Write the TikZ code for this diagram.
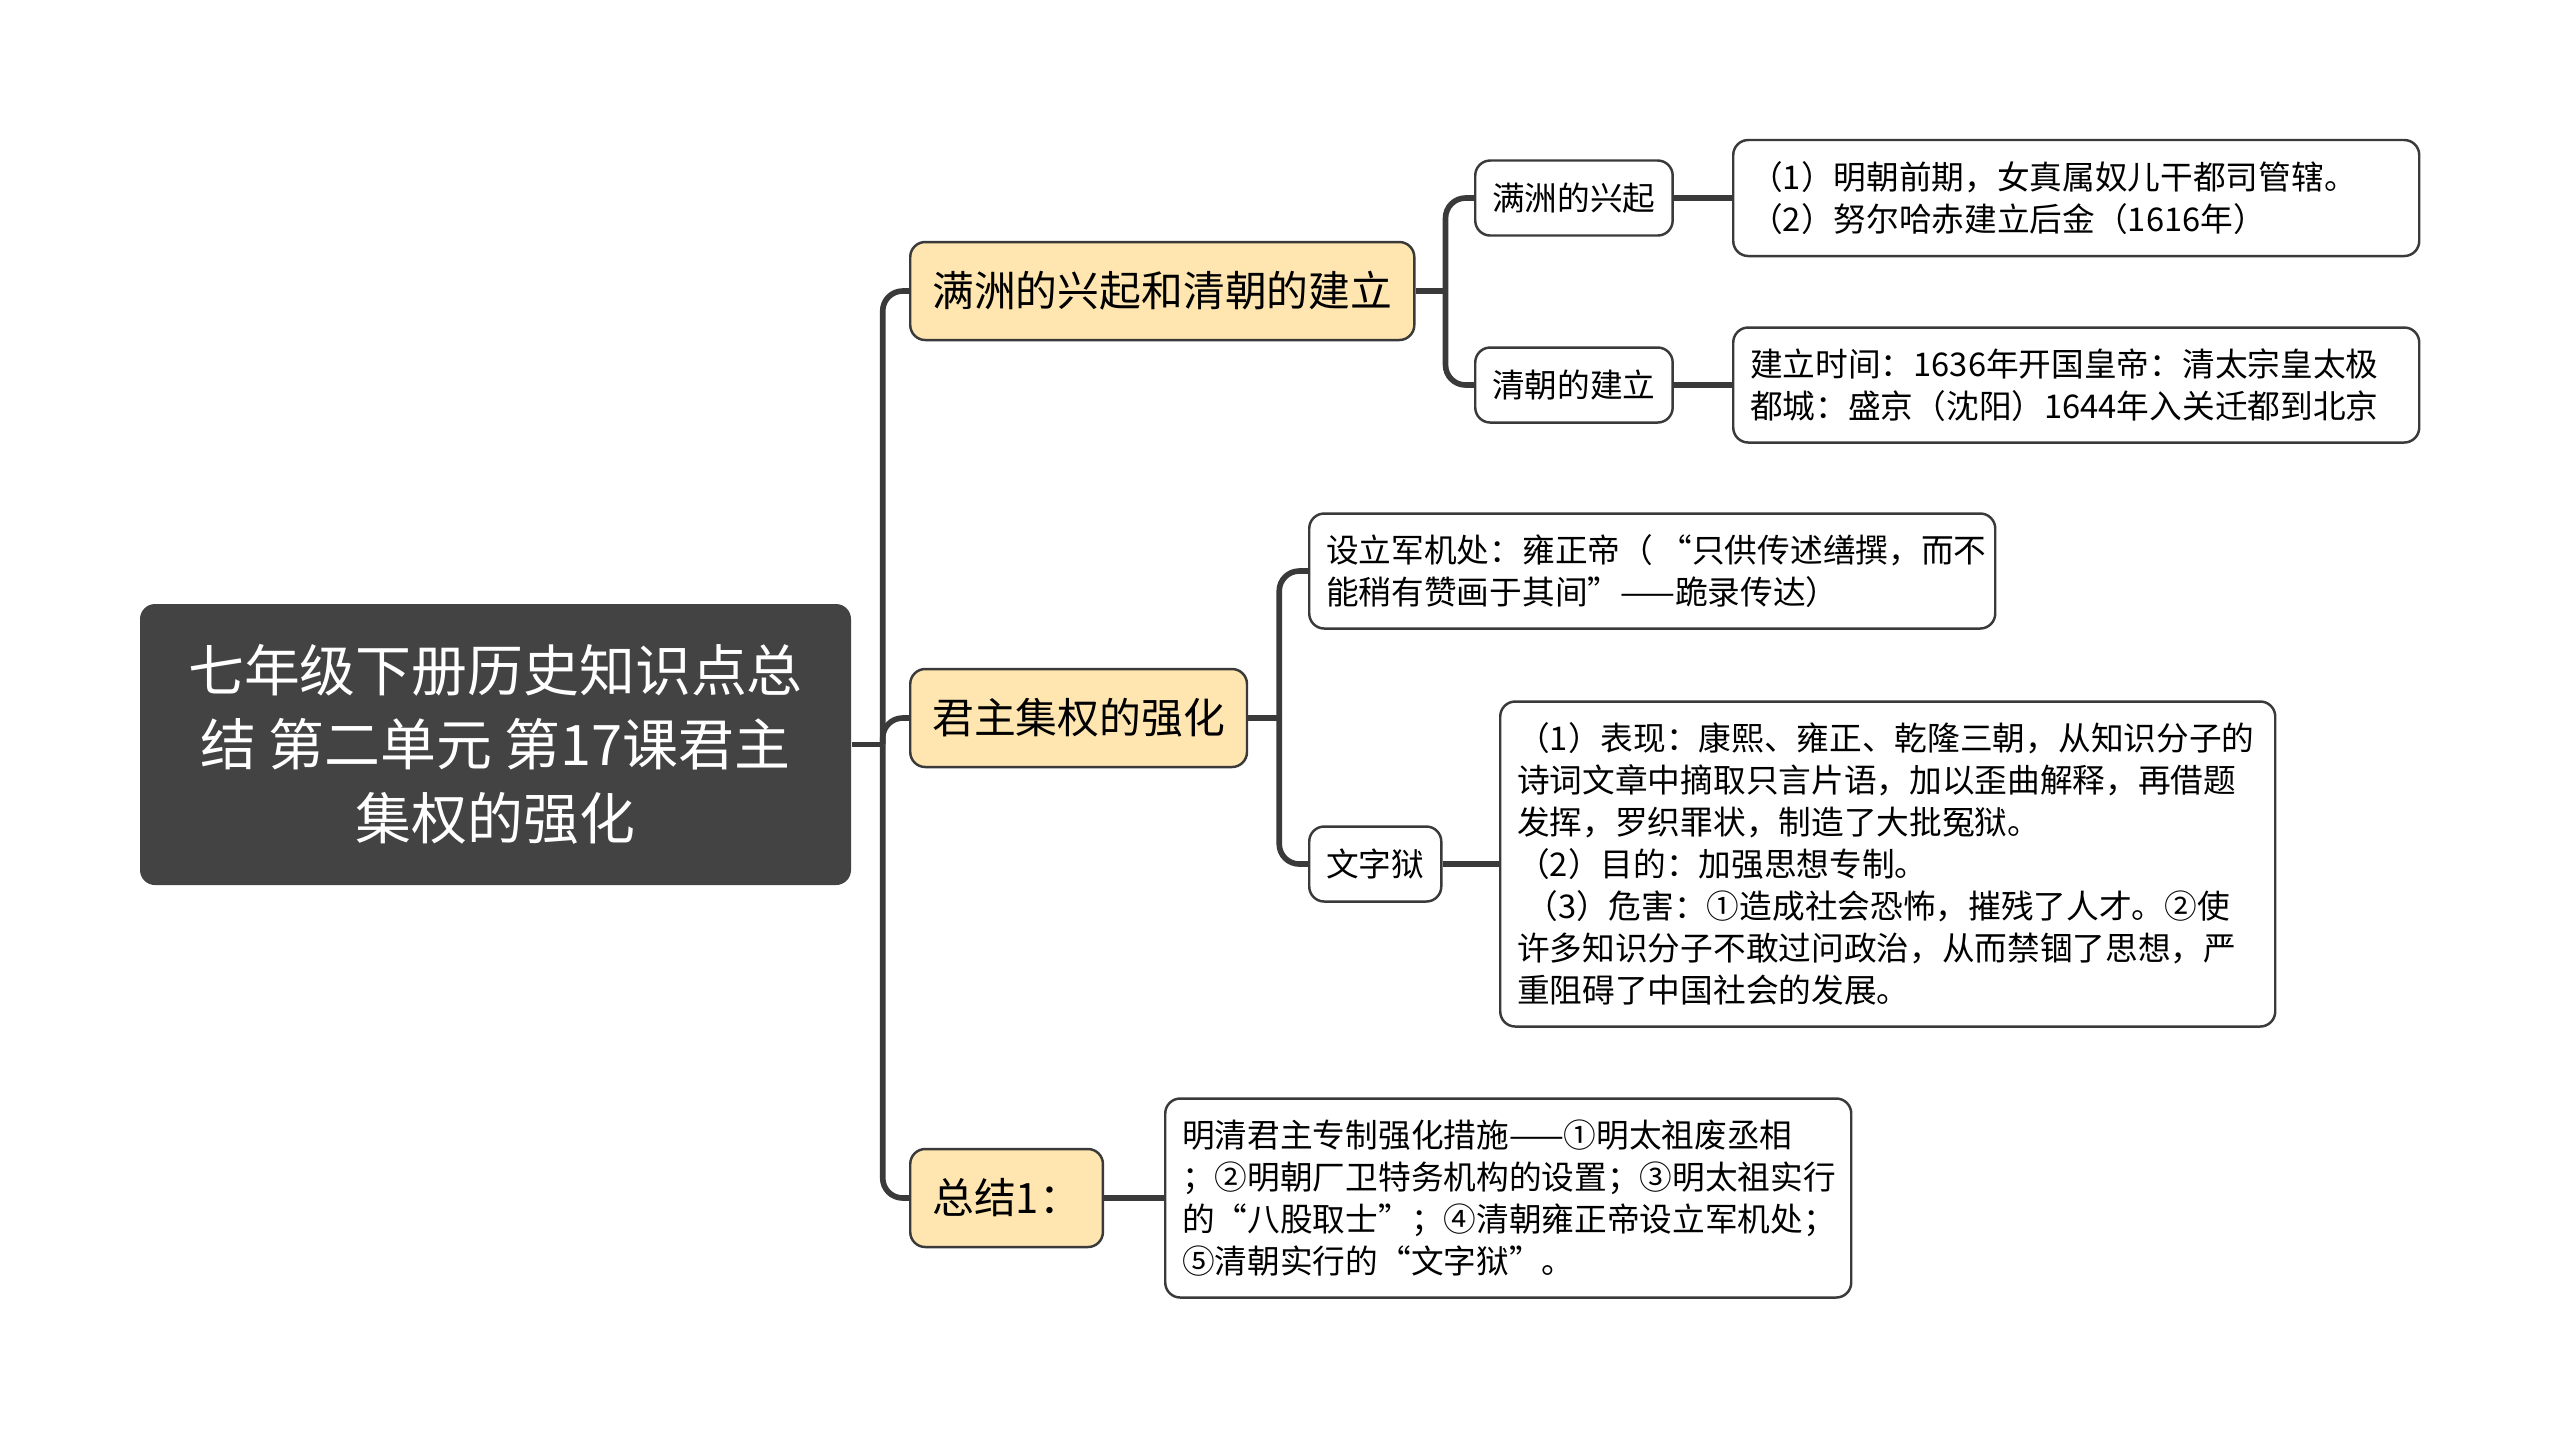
\documentclass[tikz,border=0pt]{standalone}
\usepackage{fontspec}
\setmainfont{Noto Sans CJK SC}
\definecolor{rootgrey}{RGB}{67,67,67}
\definecolor{linegrey}{RGB}{58,58,58}
\definecolor{branchyellow}{RGB}{255,230,177}
\usetikzlibrary{positioning}

\begin{document}
\begin{tikzpicture}[
    root/.style={rectangle, rounded corners=0.15cm, fill=rootgrey, text=white,
      minimum width=7.11cm, minimum height=2.81cm, align=center,
      font=\fontsize{15.9}{21}\selectfont},
    branch/.style={rectangle, rounded corners=0.15cm, draw=linegrey, line width=0.7pt,
      fill=branchyellow, inner xsep=0.22cm, minimum height=0.98cm, anchor=west,
      font=\fontsize{11.9}{14}\selectfont},
    topic/.style={rectangle, rounded corners=0.15cm, draw=linegrey, line width=0.7pt,
      fill=white, inner xsep=0.17cm, minimum height=0.75cm, anchor=west,
      font=\fontsize{9.3}{11}\selectfont},
    leaf/.style={rectangle, rounded corners=0.15cm, draw=linegrey, line width=0.7pt,
      fill=white, inner xsep=0.17cm, anchor=west, align=left,
      font=\fontsize{9.3}{11.95}\selectfont},
    conn/.style={draw=linegrey, line width=1.6pt, rounded corners=0.2cm}
  ]
    \fill[white] (0,0) rectangle (25.6,-14.39);
    \useasboundingbox (0,0) rectangle (25.6,-14.39);

    % Root
    \node[root] (root) at (4.955,-7.445) {七年级下册历史知识点总\\结 第二单元 第17课君主\\集权的强化};

    % Main branches
    \node[branch] (b1) at (9.09,-2.91)  {满洲的兴起和清朝的建立};
    \node[branch] (b2) at (9.09,-7.18)  {君主集权的强化};
    \node[branch] (b3) at (9.09,-11.98) {总结1：};

    % Topics
    \node[topic] (s1) at (14.74,-1.98) {满洲的兴起};
    \node[topic] (s2) at (14.74,-3.85) {清朝的建立};
    \node[leaf, text width=6.52cm, minimum height=1.15cm] (s3) at (13.08,-5.71)
      {\mbox{设立军机处：雍正帝（\hspace{0.2em}“只供传述缮撰，而不}\\能稍有赞画于其间”——跪录传达）};
    \node[topic] (s4) at (13.08,-8.64) {文字狱};

    % Leaves
    \node[leaf, text width=6.52cm, minimum height=1.16cm] (l1) at (17.32,-1.98)
      {（1）明朝前期，女真属奴儿干都司管辖。\\（2）努尔哈赤建立后金（1616年）};
    \node[leaf, text width=6.52cm, minimum height=1.15cm] (l2) at (17.32,-3.85)
      {建立时间：1636年开国皇帝：清太宗皇太极\\都城：盛京（沈阳）1644年入关迁都到北京};
    \node[leaf, text width=7.41cm, minimum height=3.25cm] (l3) at (14.99,-8.64)
      {（1）表现：康熙、雍正、乾隆三朝，从知识分子的\\诗词文章中摘取只言片语，加以歪曲解释，再借题\\发挥，罗织罪状，制造了大批冤狱。\\（2）目的：加强思想专制。\\\hspace*{0.25em}（3）危害：①造成社会恐怖，摧残了人才。②使\\许多知识分子不敢过问政治，从而禁锢了思想，严\\重阻碍了中国社会的发展。};
    \node[leaf, text width=6.52cm, minimum height=1.99cm] (l4) at (11.64,-11.98)
      {明清君主专制强化措施——①明太祖废丞相\\；②明朝厂卫特务机构的设置；③明太祖实行\\的“八股取士”；④清朝雍正帝设立军机处；\\⑤清朝实行的“文字狱”。};

    % Connectors from root
    \draw[conn] (root.east) -- ++(0.31,0) coordinate (j0);
    \draw[conn] (b1.west) -| (j0);
    \draw[conn] (b2.west) -| (j0);
    \draw[conn] (b3.west) -| (j0);

    % First branch
    \draw[conn] (b1.east) -- ++(0.30,0) coordinate (j1);
    \draw[conn] (s1.west) -| (j1);
    \draw[conn] (s2.west) -| (j1);
    \draw[conn] (s1.east) -- (l1.west);
    \draw[conn] (s2.east) -- (l2.west);

    % Second branch
    \draw[conn] (b2.east) -- ++(0.31,0) coordinate (j2);
    \draw[conn] (s3.west) -| (j2);
    \draw[conn] (s4.west) -| (j2);
    \draw[conn] (s4.east) -- (l3.west);

    % Summary
    \draw[conn] (b3.east) -- (l4.west);
  \end{tikzpicture}
\end{document}
